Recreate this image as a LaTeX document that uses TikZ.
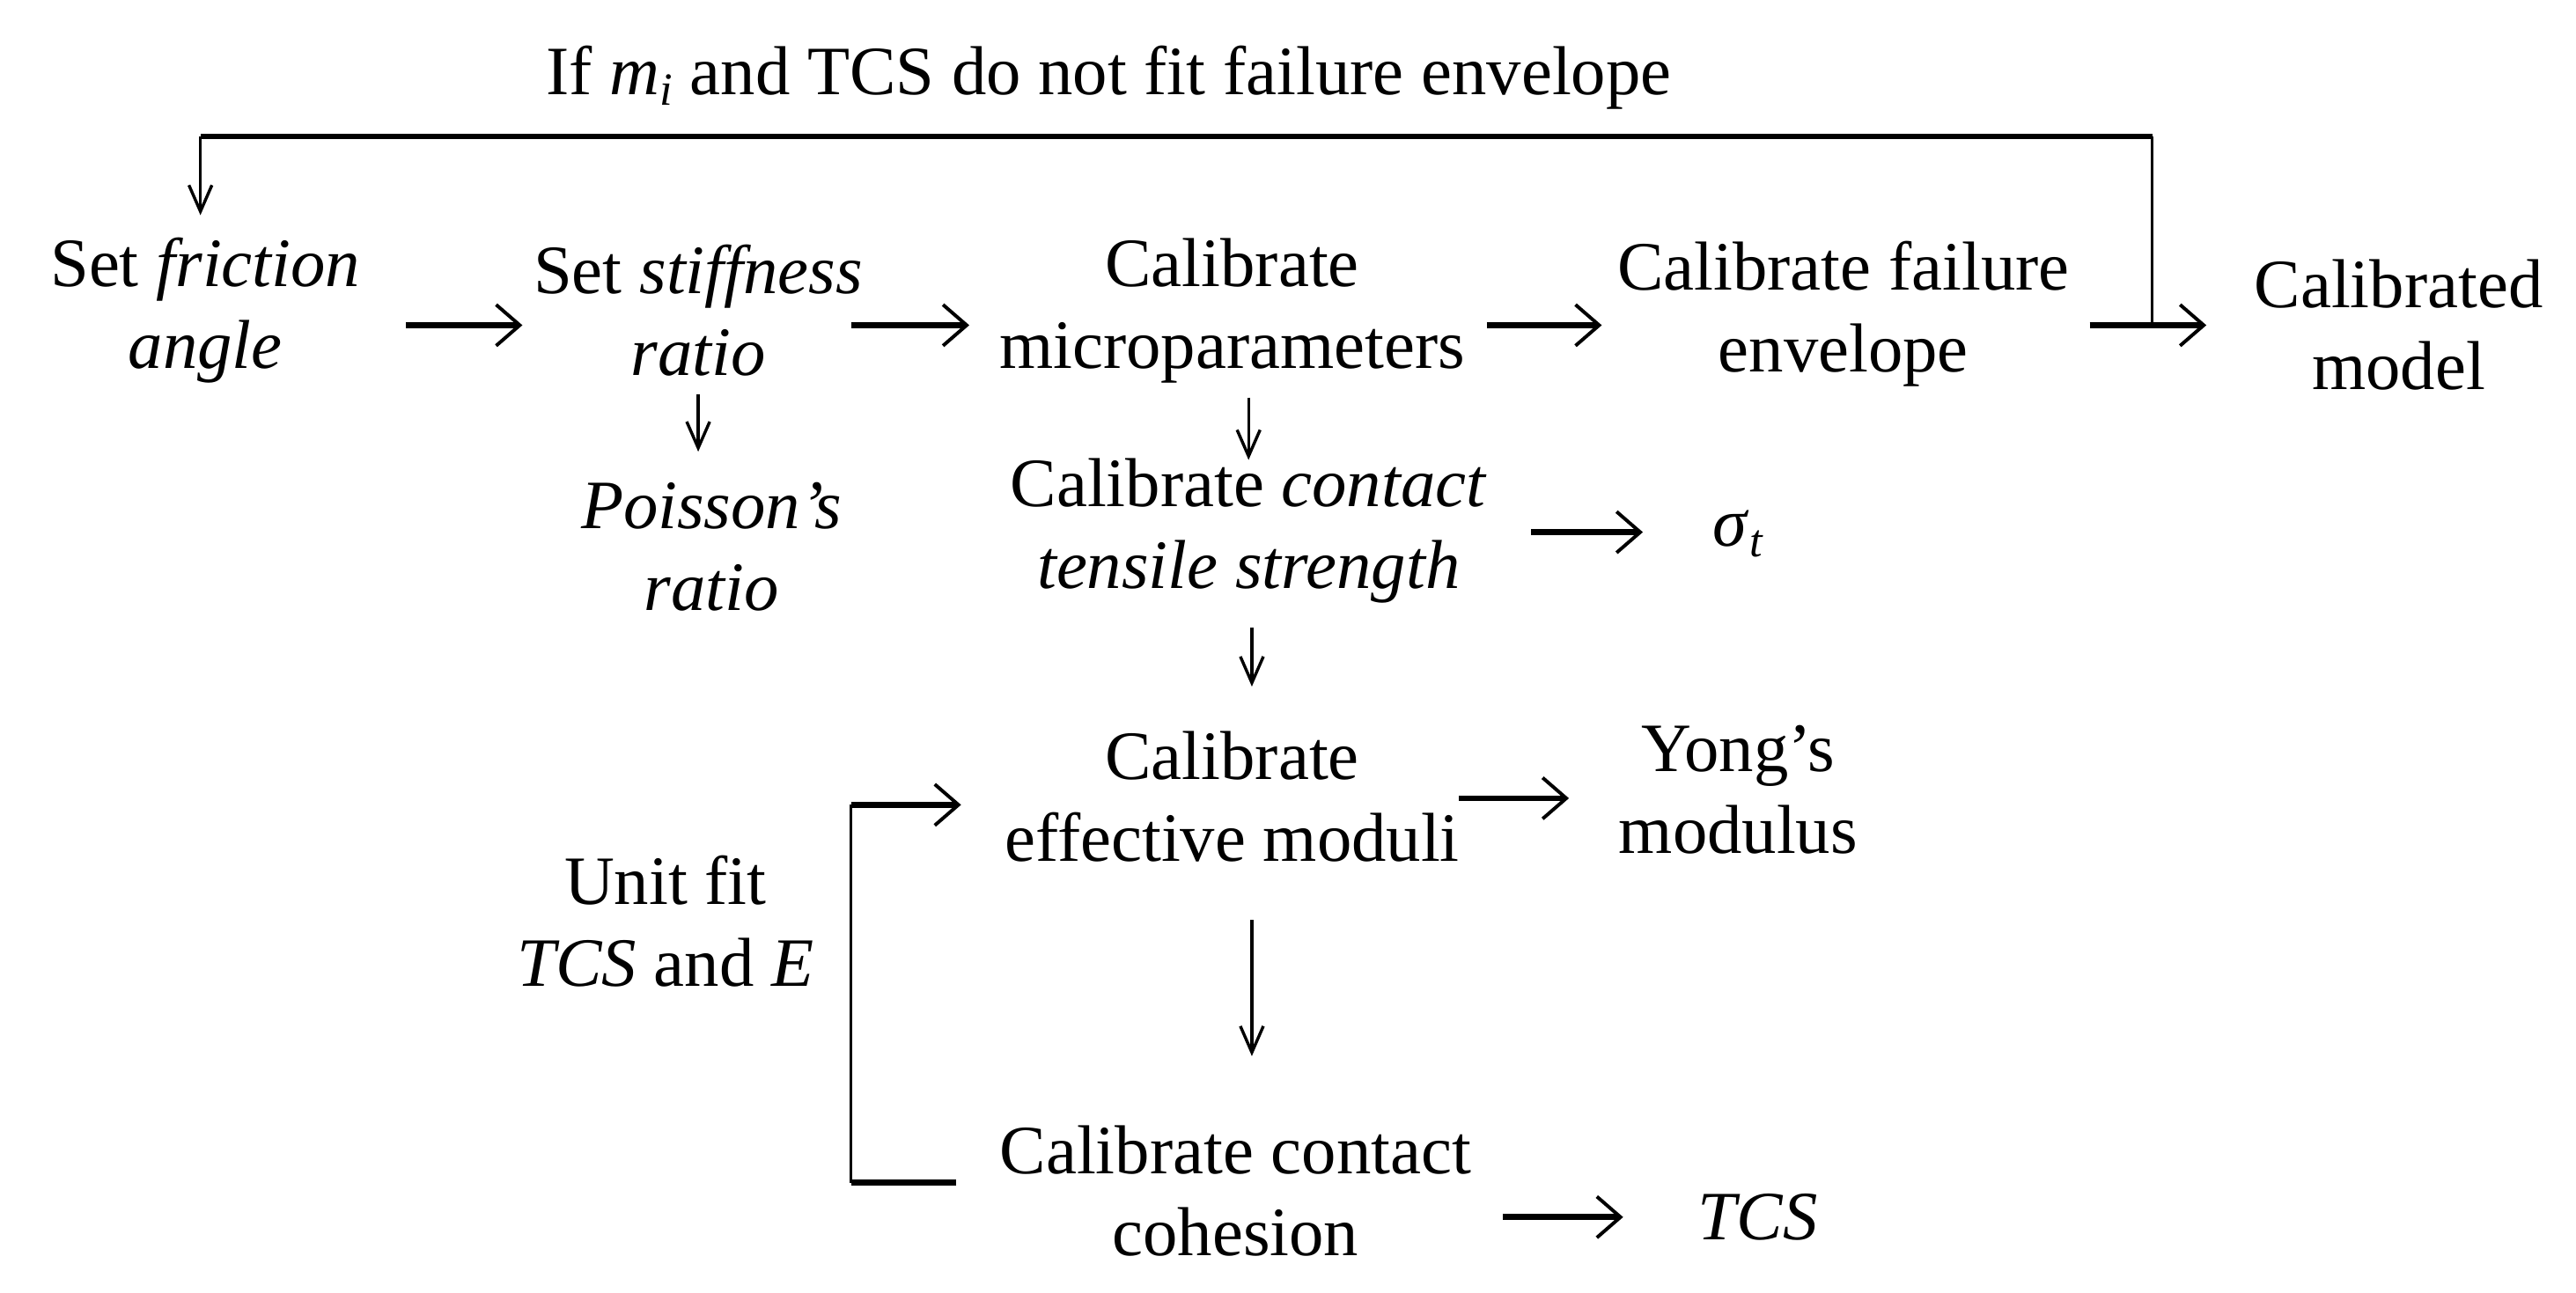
\documentclass[tikz,border=0pt]{standalone}
\usepackage{fontspec}
\setmainfont{Liberation Serif}
\usetikzlibrary{arrows.meta,calc}
\begin{document}
\begin{tikzpicture}[x=0.05cm,y=-0.05cm,
  txt/.style={align=center,inner sep=0pt,font=\fontsize{60}{71}\selectfont},
  harrow/.style={line width=5.2pt,-{Straight Barb[length=0.72cm,width=1.25cm,line width=3pt]}},
  varrow/.style={line width=2.6pt,-{Straight Barb[length=0.8cm,width=0.7cm,line width=2.6pt]}},
  thinline/.style={line width=2.6pt},
  thickline/.style={line width=5.2pt}]
\useasboundingbox (0,0) rectangle (1568,787);
\fill[white] (0,0) rectangle (1568,787);
% nodes
\node[txt] (title) at (675,47) {If \textit{m}\raisebox{-0.35ex}{\fontsize{40}{40}\selectfont\textit{i}} and TCS do not fit failure envelope};
\node[txt] (fric) at (125,189) {Set \textit{friction}\\\textit{angle}};
\node[txt] (stiff) at (425,189) {Set \textit{stiffness}\\\textit{ratio}};
\node[txt] (micro) at (750,189) {Calibrate\\microparameters};
\node[txt] (fail) at (1122,191) {Calibrate failure\\envelope};
\node[txt] (model) at (1460,198) {Calibrated\\model};
\node[txt] (pois) at (433,333) {\textit{Poisson’s}\\\textit{ratio}};
\node[txt] (tens) at (760,323) {Calibrate \textit{contact}\\\textit{tensile strength}};
\node[txt] (sig) at (1058,325) {\textit{σ}\raisebox{-0.35ex}{\fontsize{40}{40}\selectfont\textit{t}}};
\node[txt] (eff) at (750,485) {Calibrate\\effective moduli};
\node[txt] (yong) at (1058,481) {Yong’s\\modulus};
\node[txt] (coh) at (752,725) {Calibrate contact\\cohesion};
\node[txt] (tcs) at (1070,741) {\textit{TCS}};
\node[txt] (unit) at (405,561) {Unit fit\\\textit{TCS} and \textit{E}};
% main row
\draw[harrow] ($(fric.center)+(122,9)$) -- ($(stiff.center)+(-107,9)$);
\draw[harrow] ($(stiff.center)+(93,9)$) -- ($(micro.center)+(-160,9)$);
\draw[harrow] ($(micro.center)+(155,9)$) -- ($(fail.center)+(-147,7)$);
\draw[harrow] ($(fail.center)+(150,7)$) -- ($(model.center)+(-117,0)$);
% verticals
\draw[varrow] ($(stiff.center)+(0,51)$) -- ($(stiff.center |- pois.center)+(0,-58)$);
\draw[varrow] ($(tens.center |- micro.center)+(0,53)$) -- ($(tens.center)+(0,-43)$);
\draw[varrow] ($(tens.center)+(2,59)$) -- ($(tens.center |- eff.center)+(2,-67)$);
\draw[varrow] ($(eff.center)+(12,75)$) -- ($(eff.center |- coh.center)+(12,-82)$);
% side outputs
\draw[harrow] ($(tens.center)+(172,1)$) -- ($(sig.center)+(-58,-1)$);
\draw[harrow] ($(eff.center)+(138,1)$) -- ($(yong.center)+(-103,5)$);
\draw[harrow] ($(coh.center)+(163,16)$) -- ($(tcs.center)+(-82,0)$);
% bracket
\coordinate (bB) at ($(coh.center)+(-170,-5)$);
\coordinate (bBL) at ($(coh.center)+(-234,-5)$);
\coordinate (bTL) at ($(eff.center)+(-232,5)$);
\draw[thinline] (bBL) -- (bTL);
\draw[thickline] (bB) -- (bBL);
\draw[harrow] (bTL) -- ($(eff.center)+(-165,5)$);
% feedback loop
\coordinate (fbR) at ($(fail.center)+(188,-108)$);
\coordinate (fbL) at ($(fric.center)+(-3,-106)$);
\draw[thinline] ($(fail.center)+(188,7)$) -- (fbR);
\draw[line width=4.2pt] (fbR) -- (fbL);
\draw[varrow] (fbL) -- ($(fric.center)+(-3,-58)$);
\end{tikzpicture}
\end{document}
